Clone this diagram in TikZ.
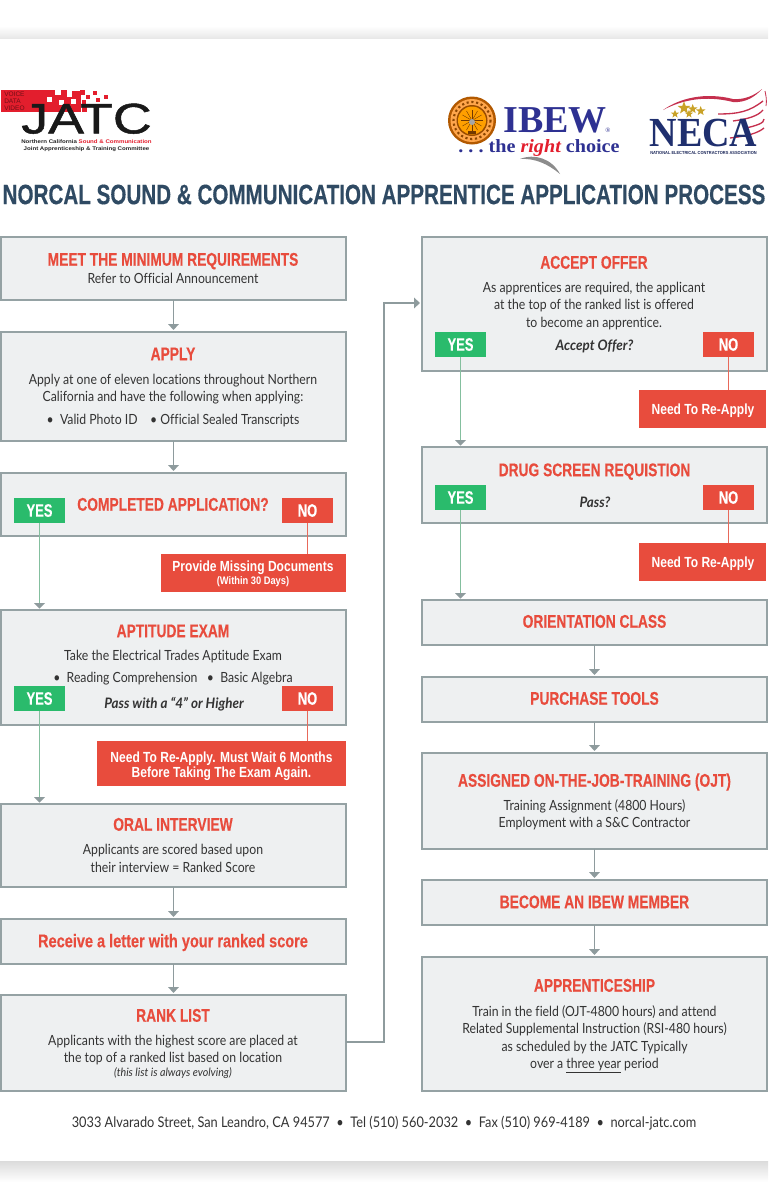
\documentclass[tikz,border=0pt]{standalone}
\usepackage{fontspec}
\usetikzlibrary{arrows.meta,calc,shapes.geometric}
\setmainfont{Lato}
\newfontfamily\headf[FakeStretch=0.75,BoldFont={Liberation Sans Bold},BoldFeatures={FakeBold=0.25}]{Liberation Sans}
\newfontfamily\bigf[FakeStretch=0.737,BoldFont={Liberation Sans Bold},BoldFeatures={FakeBold=0.35}]{Liberation Sans}
\newfontfamily\tallf[FakeStretch=0.79,BoldFont={Liberation Sans Bold},BoldFeatures={FakeBold=0.25}]{Liberation Sans}
\newfontfamily\whitef[FakeStretch=0.82,BoldFont={Liberation Sans Bold}]{Liberation Sans}
\newfontfamily\whites[FakeStretch=0.85,BoldFont={Liberation Sans Bold}]{Liberation Sans}
\newfontfamily\tagf[FakeStretch=0.72,BoldFont={Liberation Sans Bold},BoldFeatures={FakeBold=0.25}]{Liberation Sans}
\newfontfamily\bodyf[FakeStretch=0.875,Ligatures=CommonOff]{Lato}
\newfontfamily\itaf[FakeStretch=0.93,Ligatures=CommonOff]{Lato}
\newfontfamily\serf{Liberation Serif}
\newfontfamily\serw[FakeStretch=1.08]{Liberation Serif}
\newfontfamily\serk[FakeStretch=0.92]{Liberation Serif}
\newfontfamily\logof{Liberation Sans}
\newfontfamily\jatcf[FakeStretch=1.26,FakeBold=1.2]{Liberation Sans}
\newfontfamily\jsubf[FakeStretch=1.16]{Liberation Sans}
\newfontfamily\necas[FakeStretch=0.9]{Liberation Sans}
\definecolor{boxfill}{HTML}{EEF0F1}
\definecolor{boxline}{HTML}{95A2A4}
\definecolor{redc}{HTML}{E84C3D}
\definecolor{greenc}{HTML}{2ABB6C}
\definecolor{navyt}{HTML}{2F4A63}
\definecolor{bodyc}{HTML}{333333}
\definecolor{greenl}{HTML}{84BF9E}
\definecolor{redl}{HTML}{E8695A}
\definecolor{arrowc}{HTML}{8E9B9D}
\definecolor{ibewn}{HTML}{2E3192}
\definecolor{necan}{HTML}{1F2F6E}
\definecolor{logored}{HTML}{E31E2D}
\definecolor{goldc}{HTML}{C9A227}
\definecolor{swoosh}{HTML}{C5304E}
\tikzset{
  x=0.75pt,y=-0.75pt,
  rct/.style={anchor=north west,inner sep=0pt,outer sep=0pt},
  flowbox/.style={rct,draw=boxline,fill=boxfill,line width=1.1pt},
  redbox/.style={rct,fill=redc},
  yesbox/.style={rct,fill=greenc,text=white,font=\tagf\bfseries\fontsize{13.5}{14}\selectfont},
  nobox/.style={rct,fill=redc,text=white,font=\tagf\bfseries\fontsize{13.5}{14}\selectfont},
  ttl/.style={text=redc,font=\headf\bfseries\fontsize{13.8}{15}\selectfont,inner sep=0pt,text height=10pt,text depth=0pt,yshift=0.7pt},
  bod/.style={text=bodyc,font=\bodyf\fontsize{10.5}{13}\selectfont,align=center,inner sep=0pt},
  ita/.style={text=bodyc,font=\itaf\itshape\bfseries\fontsize{10.8}{12}\selectfont,inner sep=0pt},
  wht/.style={text=white,font=\whitef\bfseries\fontsize{11}{11.6}\selectfont,align=center,inner sep=0pt},
  flowarrow/.style={draw=arrowc,line width=0.95pt,-{Triangle[length=4.5pt,width=8pt]},shorten >=1.5pt},
  yesarrow/.style={draw=greenl,line width=1.2pt},
  noline/.style={draw=redl,line width=1.1pt},
  goldstar/.style={star,star points=5,star point ratio=2.4,fill=goldc,inner sep=0pt},
}
\newcommand{\bx}[6]{\node[#1,minimum width={(#5-#3)*0.75pt},minimum height={(#6-#4)*0.75pt}] (#2) at (#3,#4) {};}
\newcommand{\yesarr}[2]{\draw[yesarrow] (#1.south) -- ($(#1.south |- #2.north)+(0,-6)$);
  \fill[arrowc] ($(#1.south |- #2.north)+(0,-1.5)$) -- ++(-5.5,-5.5) -- ++(11,0) -- cycle;}
\begin{document}
\begin{tikzpicture}
\useasboundingbox (0,0) rectangle (768,1200);
\fill[white] (0,0) rectangle (768,1200);
\shade[top color=white,bottom color=black!9] (0,26) rectangle (768,38);
\shade[top color=black!14,bottom color=white] (0,1161) rectangle (768,1182);

% JATC logo
\fill[logored] (1,90) rectangle (55,112);
\fill[logored] (55,95) rectangle (81,112);
\fill[logored] (61,90) rectangle (67,95);
\fill[logored] (72,91) rectangle (80,95);
\foreach \a/\b/\s in {80/90/5,86/95/4,93/91/4,96/98/3.5,104/95/3.5,82/107/5,82/100/4}{\fill[logored] (\a,\b) rectangle +(\s,\s);}
\foreach \a/\b in {47/97,59/100,67/92,71/99}{\fill[white] (\a,\b) rectangle +(5,5);}
\node[inner sep=0pt,anchor=west,text=logored!50!black,font=\logof\fontsize{4.9}{5.3}\selectfont,align=left] (jvoice) at (4,101) {VOICE\\DATA\\VIDEO};
\node[inner sep=0pt,text=black!90,font=\jatcf\fontsize{32}{32}\selectfont,text depth=0pt] (jatc) at (86.5,118.5) {JATC};
\node[inner sep=0pt,font=\jsubf\bfseries\fontsize{3.95}{5.3}\selectfont,align=center,text=black!85] (jsub) at (86.5,146) {Northern California {\color{logored}Sound \& Communication}\\Joint Apprenticeship \& Training Committee};

% IBEW logo
\fill[black!30!orange] (472,120.5) circle (24);
\fill[orange!70!white] (472,120.5) circle (21.5);
\draw[black!45!orange,line width=1.6pt,dotted] (472,120.5) circle (18.5);
\fill[black!40!orange] (472,120.5) circle (15.5);
\fill[orange!75!yellow] (472,120.5) circle (14);
\foreach \t in {0,30,...,330}{\draw[black!55!orange,line width=0.3pt] (472,120.5) -- ++(\t:11);}
\fill[black!35] (472,122) circle (3);
\fill[black!55!orange] (468,131) rectangle (476,134);
\fill[black!45] (520,159) .. controls (535,153) and (552,159) .. (560,174) .. controls (548,164) and (535,158) .. cycle;
\node[inner sep=0pt,text=ibewn,font=\serf\bfseries\fontsize{28.5}{29}\selectfont] (ibew) at (555,120) {IBEW};
\node[inner sep=0pt,text=ibewn,font=\serf\fontsize{5}{5}\selectfont] (ibewr) at (608,130) {®};
\node[inner sep=0pt,text=ibewn,font=\serw\bfseries\fontsize{14}{14}\selectfont] (choice) at (539,148) {.\ .\ .\ the {\color{logored}\itshape right} choice};

% NECA logo
\fill[swoosh] (663,110) .. controls (680,98) and (705,92) .. (733,99) .. controls (745,100) and (755,95) .. (762,89) .. controls (755,97) and (745,103) .. (733,102) .. controls (705,95) and (682,100) .. cycle;
\foreach \a/\b/\c/\d/\e/\f in {718/114/740/114/763/101,733/121/748/119/763/110,746/128/755/126/764/119,730/138/748/136/764/128}{
  \draw[swoosh,line width=1pt] (\a,\b) .. controls (\c,\d) and (\c+10,\d-3) .. (\e,\f);}
\draw[swoosh,line width=0.6pt] (766,106) .. controls (767,100) and (766,96) .. (765,91);
\node[goldstar,minimum size=10pt] (s1) at (684,108) {};
\node[goldstar,minimum size=6.5pt] (s2) at (675,114) {};
\node[goldstar,minimum size=7.5pt] (s3) at (692.7,109) {};
\node[goldstar,minimum size=7.5pt] (s4) at (700.7,111) {};
\node[goldstar,minimum size=6.5pt] (s5) at (689,114) {};
\node[inner sep=0pt,text=necan,font=\serk\bfseries\fontsize{31}{31}\selectfont,text depth=0pt] (neca) at (703.5,133) {NECA};
\node[inner sep=0pt,text=necan!80!black,font=\necas\bfseries\fontsize{3.3}{4}\selectfont] (necasub) at (703.5,152.5) {NATIONAL ELECTRICAL CONTRACTORS ASSOCIATION};

% heading
\node[inner sep=0pt,text=navyt,font=\bigf\bfseries\fontsize{21}{24}\selectfont] (heading) at (384,194.5) {NORCAL SOUND \& COMMUNICATION APPRENTICE APPLICATION PROCESS};

% left column boxes
\bx{flowbox}{bmin}{1}{237}{346}{300}
\bx{flowbox}{bapply}{1}{332}{346}{441}
\bx{flowbox}{bcomp}{1}{473}{346}{536}
\bx{flowbox}{bexam}{1}{610}{346}{725}
\bx{flowbox}{boral}{1}{804}{346}{887}
\bx{flowbox}{bletter}{1}{919}{346}{964}
\bx{flowbox}{brank}{1}{995}{346}{1091}
% right column boxes
\bx{flowbox}{boffer}{422}{237}{767}{371}
\bx{flowbox}{bdrug}{422}{447}{767}{523}
\bx{flowbox}{borient}{422}{600}{767}{645}
\bx{flowbox}{btools}{422}{677}{767}{722}
\bx{flowbox}{bojt}{422}{753}{767}{849}
\bx{flowbox}{bmember}{422}{880}{767}{925}
\bx{flowbox}{bappr}{422}{957}{767}{1091}

% red outcome boxes
\bx{redbox}{rmiss}{161}{554}{346}{592}
\bx{redbox}{rwait}{97}{741}{346}{786}
\bx{redbox}{rre1}{639}{390}{766}{428}
\bx{redbox}{rre2}{639}{543}{766}{581}

% yes/no tags
\newcommand{\tag}[5]{\node[#1,minimum width=51*0.75pt,minimum height=25*0.75pt] (#2) at (#3,#4) {\raisebox{-0.3pt}{#5}};}
\tag{yesbox}{y1}{14}{498}{YES}
\tag{nobox}{n1}{282}{498}{NO}
\tag{yesbox}{y2}{14}{686}{YES}
\tag{nobox}{n2}{282}{686}{NO}
\tag{yesbox}{y3}{435}{332}{YES}
\tag{nobox}{n3}{703}{332}{NO}
\tag{yesbox}{y4}{435}{485}{YES}
\tag{nobox}{n4}{703}{485}{NO}

% connectors
\draw[flowarrow] (bmin) -- (bapply);
\draw[flowarrow] (bapply) -- (bcomp);
\draw[flowarrow] (boral) -- (bletter);
\draw[flowarrow] (bletter) -- (brank);
\draw[flowarrow] (borient) -- (btools);
\draw[flowarrow] (btools) -- (bojt);
\draw[flowarrow] (bojt) -- (bmember);
\draw[flowarrow] (bmember) -- (bappr);
\coordinate (rout) at ($(brank.east)+(0,-1)$);
\coordinate (oin) at (boffer.west |- 0,303);
\draw[flowarrow] (rout) -- (384,1042) -- (384,303) -- (oin);
\yesarr{y1}{bexam}
\yesarr{y2}{boral}
\yesarr{y3}{bdrug}
\yesarr{y4}{borient}
\draw[noline] (n1.south) -- (n1.south |- rmiss.north);
\draw[noline] (n2.south) -- (n2.south |- rwait.north);
\draw[noline] (n3.south) -- (n3.south |- rre1.north);
\draw[noline] (n4.south) -- (n4.south |- rre2.north);

% texts left
\node[ttl] (t1) at (173,260) {MEET THE MINIMUM REQUIREMENTS};
\node[bod] (t1b) at (173,278) {Refer to Official Announcement};
\node[ttl] (t2) at (173,354.5) {APPLY};
\node[bod] (t2b) at (173,389) {Apply at one of eleven locations throughout Northern\\California and have the following when applying:};
\node[bod] (t2c) at (173,420.5) {•\ \ Valid Photo ID\ \ \ \ •\ Official Sealed Transcripts};
\node[ttl] (t3) at (173,505) {COMPLETED APPLICATION?};
\node[wht] (t3r) at (253,567.5) {Provide Missing Documents};
\node[wht,font=\whites\bfseries\fontsize{8.2}{9}\selectfont] (t3s) at (253,582) {(Within 30 Days)};
\node[ttl] (t4) at (173,631.5) {APTITUDE EXAM};
\node[bod] (t4b) at (173,656.5) {Take the Electrical Trades Aptitude Exam};
\node[bod] (t4c) at (173,678.5) {•\ \ Reading Comprehension\ \ \ •\ \ Basic Algebra};
\node[ita] (t4d) at (174,704) {Pass with a “4” or Higher};
\node[wht] (t4r) at (221.5,766) {Need To Re-Apply. Must Wait 6 Months\\Before Taking The Exam Again.};
\node[ttl] (t5) at (173,825) {ORAL INTERVIEW};
\node[bod] (t5b) at (173,858.5) {Applicants are scored based upon\\their interview = Ranked Score};
\node[ttl,font=\tallf\bfseries\fontsize{13.8}{15}\selectfont] (t6) at (173,941.5) {Receive a letter with your ranked score};
\node[ttl] (t7) at (173,1016) {RANK LIST};
\node[bod] (t7b) at (173,1050) {Applicants with the highest score are placed at\\the top of a ranked list based on location};
\node[bod,font=\itaf\itshape\fontsize{8.6}{9}\selectfont] (t7c) at (173,1073) {(this list is always evolving)};
% texts right
\node[ttl] (r1) at (594,263) {ACCEPT OFFER};
\node[bod] (r1b) at (594,306) {As apprentices are required, the applicant\\at the top of the ranked list is offered\\to become an apprentice.};
\node[ita] (r1c) at (594.5,346) {Accept Offer?};
\node[wht] (r1r) at (703,410.5) {Need To Re-Apply};
\node[ttl] (r2) at (594.5,470.5) {DRUG SCREEN REQUISTION};
\node[ita] (r2c) at (595,502) {Pass?};
\node[wht] (r2r) at (703,563.5) {Need To Re-Apply};
\node[ttl] (r3) at (594.5,622) {ORIENTATION CLASS};
\node[ttl] (r4) at (594.5,699) {PURCHASE TOOLS};
\node[ttl] (r5) at (594.5,781) {ASSIGNED ON-THE-JOB-TRAINING (OJT)};
\node[bod] (r5b) at (594.5,815) {Training Assignment (4800 Hours)\\Employment with a S\&C Contractor};
\node[ttl] (r6) at (594.5,902.5) {BECOME AN IBEW MEMBER};
\node[ttl] (r7) at (594.5,986) {APPRENTICESHIP};
\node[bod] (r7b) at (594.5,1039.5) {Train in the field (OJT-4800 hours) and attend\\Related Supplemental Instruction (RSI-480 hours)\\as scheduled by the JATC Typically\\over a \underline{three year} period};
\node[bod,font=\bodyf\fontsize{10.95}{13}\selectfont] (foot) at (384,1123.5) {3033 Alvarado Street, San Leandro, CA 94577\ \ •\ \ Tel (510) 560-2032\ \ •\ \ Fax (510) 969-4189\ \ •\ \ norcal-jatc.com};
\end{tikzpicture}
\end{document}
